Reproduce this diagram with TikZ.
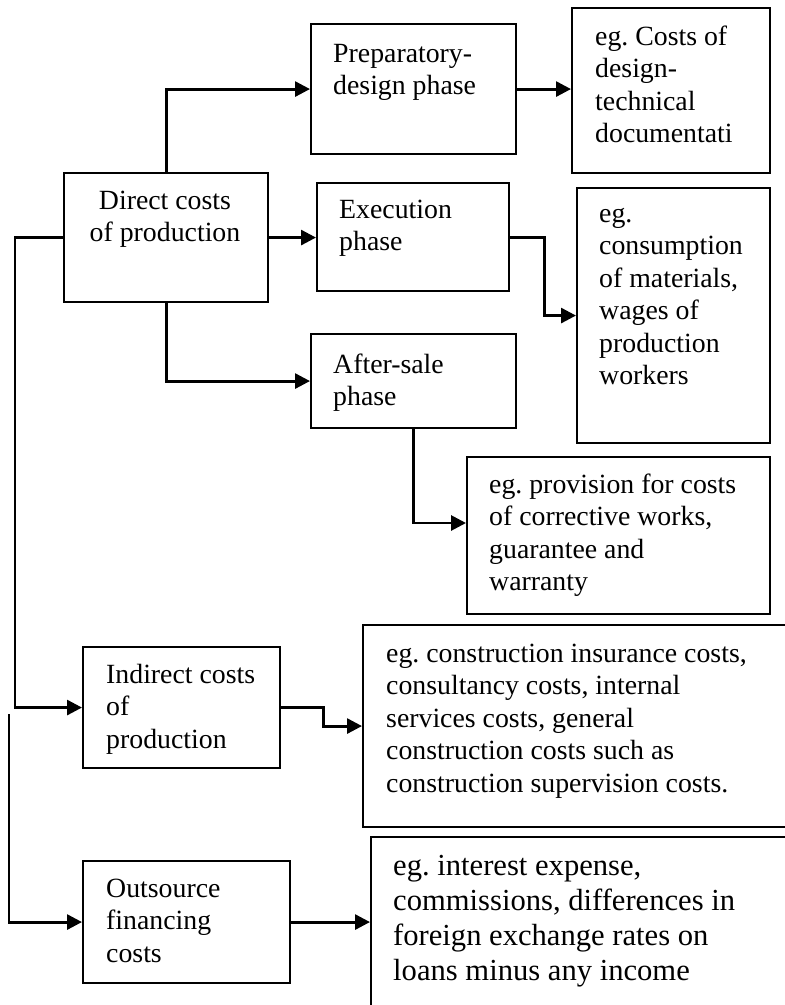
\documentclass[tikz,border=0pt]{standalone}
\usepackage{fontspec}
\setmainfont{Liberation Serif}
\usetikzlibrary{arrows.meta,calc}
\frenchspacing
\tikzset{
  box/.style={draw, line width=2.1pt, rectangle, inner sep=0pt, anchor=north west},
  conn/.style={line width=2.9pt, -{Triangle[length=15pt,width=15pt]}},
  txt/.style={anchor=base west, inner sep=0pt, font=\fontsize{27.8}{32.5}\selectfont},
  txtbig/.style={anchor=base west, inner sep=0pt, font=\fontsize{30.6}{35}\selectfont},
}
\newcommand{\mylines}[1]{\vtop{\halign{##\hfil\cr#1\crcr}}}
\newcommand{\mycent}[1]{\vtop{\halign{\hfil##\hfil\cr#1\crcr}}}
\begin{document}
\begin{tikzpicture}[x=1pt,y=-1pt]
\clip (0,0) rectangle (785,1005);
% boxes
\node[box, minimum width=204pt, minimum height=129pt] (direct) at (63,172) {};
\node[box, minimum width=205pt, minimum height=130pt] (prep) at (310,23) {};
\node[box, minimum width=192pt, minimum height=108pt] (exec) at (316,182) {};
\node[box, minimum width=205pt, minimum height=94pt] (after) at (310,333) {};
\node[box, minimum width=198pt, minimum height=165pt] (res1) at (571,7) {};
\node[box, minimum width=193pt, minimum height=255pt] (res2) at (576,187) {};
\node[box, minimum width=303pt, minimum height=157pt] (prov) at (466,456) {};
\node[box, minimum width=197pt, minimum height=121pt] (indirect) at (82,646) {};
\node[box, minimum width=207pt, minimum height=122pt] (outs) at (82,860) {};
\node[box, minimum width=450pt, minimum height=202pt] (wide1) at (362,624) {};
\node[box, minimum width=450pt, minimum height=200pt] (wide2) at (370,836) {};
% texts
\node[txt, anchor=base] (tdirect) at (165,209) {\mycent{Direct costs\cr of production}};
\node[txt] (tprep) at (333,62) {\mylines{Preparatory-\cr design phase}};
\node[txt] (texec) at (339,218) {\mylines{Execution\cr phase}};
\node[txt] (tafter) at (333,373) {\mylines{After-sale\cr phase}};
\node[txt] (tres1) at (595,45) {\mylines{eg. Costs of\cr design-\cr technical\cr documentati}};
\node[txt] (tres2) at (599,222) {\mylines{eg.\cr consumption\cr of materials,\cr wages of\cr production\cr workers}};
\node[txt] (tprov) at (489,493) {\mylines{eg. provision for costs\cr of corrective works,\cr guarantee and\cr warranty}};
\node[txt] (tindirect) at (106,683) {\mylines{Indirect costs\cr of\cr production}};
\node[txt] (touts) at (106,897) {\mylines{Outsource\cr financing\cr costs}};
\node[txt] (twide1) at (386,662) {\mylines{eg. construction insurance costs,\cr consultancy costs, internal\cr services costs, general\cr construction costs such as\cr construction supervision costs.}};
\node[txtbig] (twide2) at (393,875) {\mylines{eg. interest expense,\cr commissions, differences in\cr foreign exchange rates on\cr loans minus any income}};
% connectors
\coordinate (s2) at (9,714);
\draw[conn] (direct.north) |- (prep.west);
\draw[conn] (direct.east) -- (direct.east -| exec.west);
\draw[conn] (direct.south) |- (after.west);
\draw[conn] (prep.east) -- (prep.east -| res1.west);
\draw[conn] (exec.east) -- ++(34,0) |- (res2.west);
\draw[conn] (after.south) |- ([yshift=-67pt]prov.north west);
\draw[conn] (direct.west) -- ++(-48,0) |- (indirect.west);
\draw[conn] (s2) |- (outs.west);
\draw[conn] (indirect.east) -- ++(42,0) |- (wide1.west);
\draw[conn] (outs.east) -- (outs.east -| wide2.west);
\end{tikzpicture}
\end{document}
